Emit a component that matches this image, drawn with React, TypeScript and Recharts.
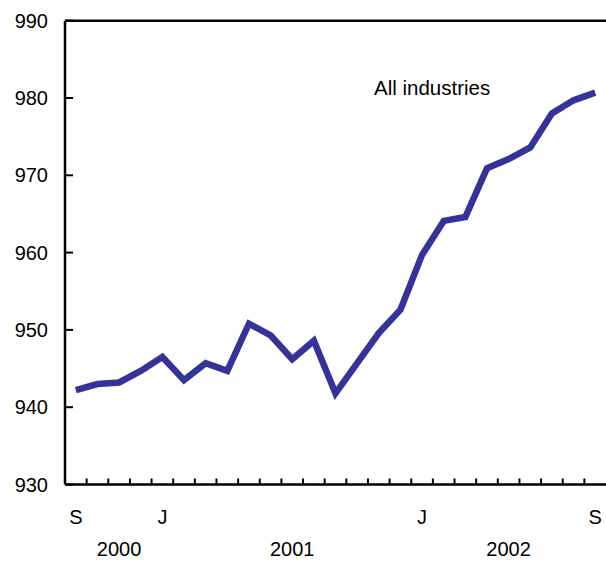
import React from 'react';
import { LineChart, Line, XAxis, YAxis, ReferenceLine } from 'recharts';

// monthly, Sep 2000 .. Sep 2002
const months = ['S', 'O', 'N', 'D', 'J', 'F', 'M', 'A', 'M', 'J', 'J', 'A', 'S', 'O', 'N', 'D', 'J', 'F', 'M', 'A', 'M', 'J', 'J', 'A', 'S'];
const allIndustries = [942.2, 943.0, 943.2, 944.7, 946.5, 943.5, 945.7, 944.7, 950.8, 949.3, 946.2, 948.6, 941.8, 945.7, 949.6, 952.6, 959.7, 964.1, 964.6, 970.9, 972.1, 973.6, 978.0, 979.7, 980.7];
const monthTicks = [0, 4, 16, 24];
const yearLabels = ['2000', '2001', '2002'];
const yearTicks = [2, 10, 20];
const yTicks = [930, 940, 950, 960, 970, 980, 990];
const seriesName = 'All industries';

document.body.style.margin = '0';

const FONT = 'Liberation Sans, Arial, Helvetica, sans-serif';
const INK = '#000';

const NoLabel = () => <g />;

const App: React.FC = () => {
  const data = months.map((m, i) => ({ idx: i, month: m, value: allIndustries[i] }));
  // tick marks sit between months
  const boundaries = months.slice(1).map((_, i) => i + 0.5);
  const domain: [number, number] = [-0.5, months.length - 0.5];
  const textStyle = { fontFamily: FONT, fontSize: 20, fill: INK };

  return (
    <LineChart width={606} height={561} data={data} margin={{ top: 20.7, right: 0, left: 0, bottom: 0 }}>
      <XAxis
        xAxisId="grid"
        type="number"
        dataKey="idx"
        domain={domain}
        ticks={boundaries}
        interval={0}
        tick={NoLabel}
        tickSize={-6}
        height={5}
        axisLine={{ stroke: INK, strokeWidth: 2.5 }}
        tickLine={{ stroke: INK, strokeWidth: 2 }}
      />
      <XAxis
        xAxisId="month"
        type="number"
        dataKey="idx"
        domain={domain}
        ticks={monthTicks}
        interval={0}
        tickFormatter={(v: number) => months[v]}
        axisLine={false}
        tickLine={false}
        tickSize={0}
        tickMargin={20.5}
        height={30}
        tick={textStyle}
      />
      <XAxis
        xAxisId="year"
        type="number"
        dataKey="idx"
        domain={domain}
        ticks={yearTicks}
        interval={0}
        tickFormatter={(v: number) => yearLabels[yearTicks.indexOf(v)]}
        axisLine={false}
        tickLine={false}
        tickSize={0}
        tickMargin={22}
        height={41.5}
        tick={textStyle}
      />
      <YAxis
        type="number"
        domain={[930, 990]}
        ticks={yTicks}
        interval={0}
        width={65}
        tickSize={-8}
        tickMargin={25}
        axisLine={{ stroke: INK, strokeWidth: 2.5 }}
        tickLine={{ stroke: INK, strokeWidth: 2 }}
        tick={textStyle}
      />
      <ReferenceLine xAxisId="grid" y={990} stroke={INK} strokeWidth={2.5} />
      <Line
        xAxisId="grid"
        type="linear"
        dataKey="value"
        stroke="#333399"
        strokeWidth={6.5}
        dot={false}
        isAnimationActive={false}
      />
      <text x={374} y={95} style={{ fontFamily: FONT, fontSize: 20.5, fill: INK }}>
        {seriesName}
      </text>
    </LineChart>
  );
};

export default App;
